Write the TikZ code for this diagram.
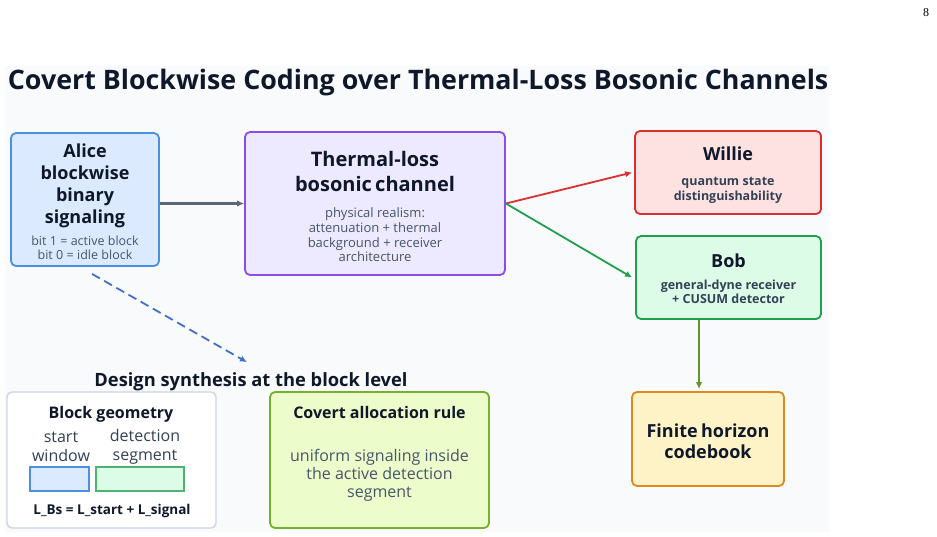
\documentclass[tikz,border=0pt]{standalone}
\usepackage{fontspec}
\setmainfont{Open Sans}
\newfontfamily\pagenumfont{Liberation Serif}
\usetikzlibrary{arrows.meta,positioning}

\definecolor{panelbg}{HTML}{F8FAFC}
\definecolor{ink}{HTML}{0F172A}
\definecolor{subgray}{HTML}{475569}
\definecolor{subdark}{HTML}{334155}
\definecolor{aliceline}{HTML}{4A8FE2}
\definecolor{alicefill}{HTML}{DBEAFE}
\definecolor{chanline}{HTML}{8B4CE8}
\definecolor{chanfill}{HTML}{EDE9FE}
\definecolor{willline}{HTML}{DC2F2F}
\definecolor{willfill}{HTML}{FEE2E2}
\definecolor{bobline}{HTML}{1FA04C}
\definecolor{bobfill}{HTML}{DCFCE7}
\definecolor{finline}{HTML}{DE8A1E}
\definecolor{finfill}{HTML}{FEF3C7}
\definecolor{ruleline}{HTML}{74B22C}
\definecolor{rulefill}{HTML}{ECFCCB}
\definecolor{geomline}{HTML}{CBD5E1}
\definecolor{arrgray}{HTML}{5B6778}
\definecolor{dashblue}{HTML}{4170C8}

\begin{document}
\begin{tikzpicture}[x=1pt,y=-1pt,line width=1.8pt,>={Latex[length=7pt,width=6.5pt]},
  box/.style={draw,rounded corners=5pt,align=center,inner sep=0pt,text=ink},
  lbl/.style={inner sep=0pt,anchor=base,text=ink}]
  % page and panel
  \useasboundingbox (0,0) rectangle (937,536);
  \fill[white] (0,0) rectangle (937,536);
  \fill[panelbg] (5,66) rectangle (829,532);
  \node[inner sep=0pt,anchor=base] (pagenum) at (926,16){\pagenumfont\fontsize{12}{13}\selectfont 8};
  \node[lbl,anchor=base west] (title) at (7,89)
    {\fontsize{26.8}{30}\selectfont\bfseries Covert Blockwise Coding over Thermal-Loss Bosonic Channels};
  % upper row
  \node[box,draw=aliceline,fill=alicefill,minimum width=148pt,minimum height=133pt,text width=140pt] (alice) at (85,199.5)
    {{\fontsize{18}{22}\selectfont\bfseries Alice\\blockwise\\binary\\signaling\par}\vspace{8pt}
     {\fontsize{12.5}{13.5}\selectfont\color{subgray}bit 1 = active block\\bit 0 = idle block\par}\vspace{-4pt}};
  \node[box,draw=chanline,fill=chanfill,minimum width=260pt,minimum height=143pt,text width=250pt] (chan) at (375,203.5)
    {{\fontsize{20}{25.7}\selectfont\bfseries Thermal-loss\\bosonic channel\par}\vspace{11pt}
     {\fontsize{13}{14.7}\selectfont\color{subgray}physical realism:\\attenuation + thermal\\background + receiver\\architecture\par}\vspace{-6pt}};
  \node[box,draw=willline,fill=willfill,minimum width=186pt,minimum height=83pt,text width=180pt] (willie) at (728,172.5)
    {{\fontsize{18}{22}\selectfont\bfseries Willie\par}\vspace{10pt}
     {\fontsize{12.5}{14.8}\selectfont\bfseries\color{subdark}quantum state\\distinguishability\par}\vspace{-5pt}};
  \node[box,draw=bobline,fill=bobfill,minimum width=185pt,minimum height=83pt,text width=180pt] (bob) at (728.5,277.5)
    {{\fontsize{18}{22}\selectfont\bfseries Bob\par}\vspace{8pt}
     {\fontsize{12.5}{14.2}\selectfont\bfseries\color{subdark}general-dyne receiver\\+ CUSUM detector\par}\vspace{-3pt}};
  \node[box,draw=finline,fill=finfill,minimum width=152pt,minimum height=94pt,text width=146pt] (finite) at (708,439)
    {\fontsize{18}{21}\selectfont\bfseries Finite horizon\\codebook\par\vspace{-4pt}};
  % lower row
  \node[lbl] (synth) at (251,386){\fontsize{18.3}{20}\selectfont\bfseries Design synthesis at the block level};
  \node[box,draw=geomline,fill=white,line width=1.4pt,minimum width=209pt,minimum height=136pt] (geom) at (111.5,460){};
  \node[lbl] (geomtitle) at (111,418){\fontsize{16}{18}\selectfont\bfseries Block geometry};
  \node[lbl,align=center,text=subdark,font=\fontsize{16}{18.5}\selectfont] (startlbl) at (61,461){start\\window};
  \node[lbl,align=center,text=subdark,font=\fontsize{16}{18.5}\selectfont] (detlbl) at (145,460){detection\\segment};
  \node[draw=aliceline,fill=alicefill,line width=1.2pt,minimum width=59pt,minimum height=24pt,inner sep=0pt] (startbox) at (59.5,479){};
  \node[draw=bobline!80,fill=bobfill,line width=1.2pt,minimum width=88pt,minimum height=24pt,inner sep=0pt] (detbox) at (140,479){};
  \node[lbl] (lsum) at (112,514){\fontsize{13.5}{15}\selectfont\bfseries L\_Bs = L\_start + L\_signal};
  \node[box,draw=ruleline,fill=rulefill,minimum width=219pt,minimum height=136pt] (rule) at (379.5,460){};
  \node[lbl] (ruletitle) at (379.5,418){\fontsize{16}{18}\selectfont\bfseries Covert allocation rule};
  \node[lbl,align=center,text=subgray,font=\fontsize{16}{18}\selectfont] (rulebody) at (379.5,497)
    {uniform signaling inside\\the active detection\\segment};
  % connectors
  \draw[->,arrgray,line width=2.1pt] (chan.west -| alice.east) -- (chan.west);
  \draw[->,willline] (chan.east) -- ([xshift=-2pt]willie.west);
  \draw[->,bobline] (chan.east) -- ([xshift=-3pt]bob.west);
  \draw[->,ruleline!85!black] ([xshift=-29.5pt]bob.south) -- ([xshift=-9pt,yshift=2pt]finite.north);
  \draw[->,dashblue,dash pattern=on 9pt off 5pt] ([shift={(7pt,-7pt)}]alice.south) -- ([shift={(-4pt,9pt)}]synth.north);
\end{tikzpicture}
\end{document}
